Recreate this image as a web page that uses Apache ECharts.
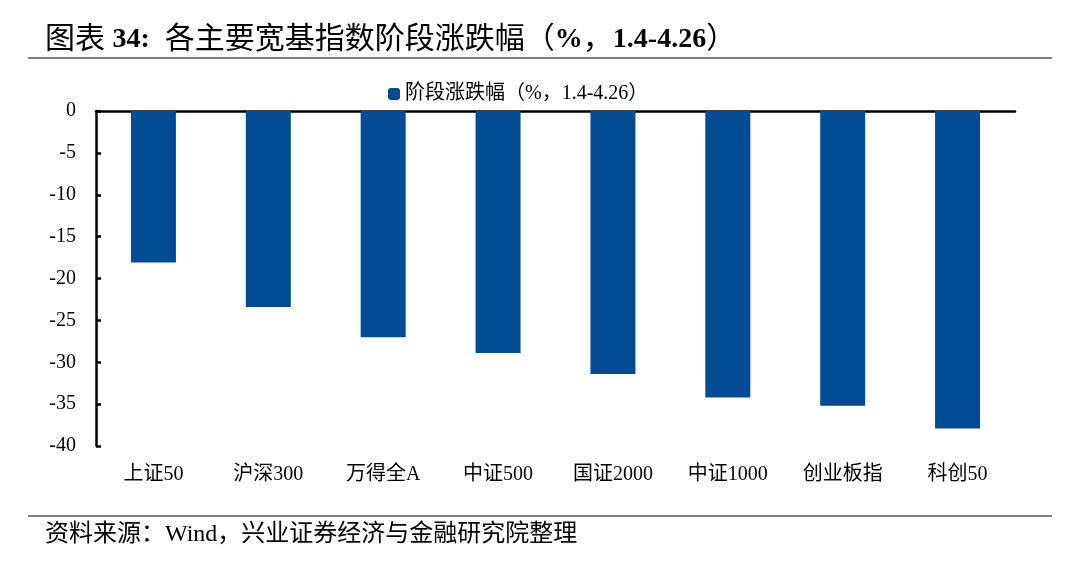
<!DOCTYPE html>
<html><head><meta charset="utf-8">
<script src="https://cdn.jsdelivr.net/npm/echarts@6/dist/echarts.min.js"></script>
<style>html,body{margin:0;padding:0;background:#fff}#c{width:1080px;height:568px}</style>
</head><body><div id="c"></div>
<script>
const categories = ['上证50','沪深300','万得全A','中证500','国证2000','中证1000','创业板指','科创50'];
const values = [-18.1, -23.4, -27.0, -28.9, -31.4, -34.2, -35.2, -37.9];
const seriesName = '阶段涨跌幅（%，1.4-4.26）';
const titleParts = [['l','图表 '],['b','34:'],['l','  各主要宽基指数阶段涨跌幅（'],['b','%'],['l','，'],['b','1.4-4.26'],['l','）']];
const sourceText = '资料来源：Wind，兴业证券经济与金融研究院整理';
const FONT = '"Liberation Serif","Noto Sans CJK SC",serif';

const chart = echarts.init(document.getElementById('c'));
chart.setOption({
  animation: false,
  grid: {left: 96, right: 65, top: 111, bottom: 122},
  legend: {
    data: [seriesName], left: 383, top: 79, itemWidth: 12, itemHeight: 12, itemGap: 6,
    textStyle: {fontFamily: FONT, fontSize: 20, color: '#000'}
  },
  xAxis: [
    {type: 'category', data: categories, position: 'top',
     axisLine: {onZero: false, lineStyle: {color: '#000', width: 2.5}},
     axisTick: {show: false}, axisLabel: {show: false}},
    {type: 'category', data: categories, position: 'bottom',
     axisLine: {show: false}, axisTick: {show: false},
     axisLabel: {fontFamily: FONT, fontSize: 20, color: '#000', margin: 19}}
  ],
  yAxis: {
    type: 'value', min: -40, max: 0, interval: 5,
    axisLine: {show: true, lineStyle: {color: '#000', width: 2.5}},
    axisTick: {show: true, inside: true, length: 5, lineStyle: {color: '#000', width: 2.5}},
    splitLine: {show: false},
    axisLabel: {fontFamily: FONT, fontSize: 20, color: '#000', margin: 20}
  },
  series: [{
    name: seriesName, type: 'bar', data: values, xAxisIndex: 0, barWidth: 45, barCategoryGap: '61%',
    itemStyle: {color: '#024C95'}
  }],
  graphic: [
    {type: 'text', left: 45, top: 25, style: {
      text: titleParts.map(p => '{' + p[0] + '|' + p[1] + '}').join(''),
      rich: {
        l: {fontFamily: FONT, fontSize: 30, fontWeight: 'normal', fill: '#000', color: '#000'},
        b: {fontFamily: FONT, fontSize: 28, fontWeight: 'bold', fill: '#000', color: '#000'}
      }
    }},
    {type: 'line', shape: {x1: 28, y1: 58, x2: 1052, y2: 58}, style: {stroke: '#000', lineWidth: 1.2}},
    {type: 'line', shape: {x1: 28, y1: 516, x2: 1052, y2: 516}, style: {stroke: '#000', lineWidth: 1.2}},
    {type: 'text', left: 45, top: 523, style: {text: sourceText, font: '24px ' + FONT, fill: '#000'}}
  ]
});
</script></body></html>
